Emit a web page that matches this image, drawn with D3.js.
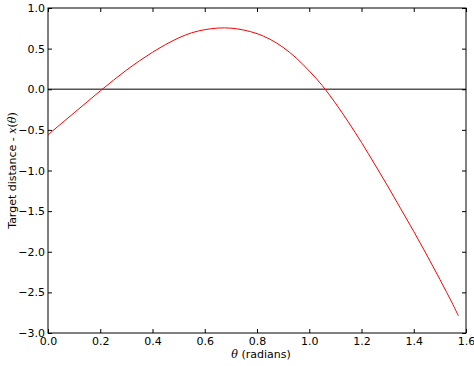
<!DOCTYPE html>
<html>
<head>
<meta charset="utf-8">
<script src="https://cdn.jsdelivr.net/npm/d3@7"></script>
<style>
  body { margin: 0; background: #fff; }
  svg { display: block; }
  .axis text { font-family: "DejaVu Sans", sans-serif; font-size: 11px; fill: #000; }
  .label { font-family: "DejaVu Sans", sans-serif; font-size: 11px; fill: #000; }
</style>
</head>
<body>
<div id="chart"></div>
<script>
// values
var theta = [0.0, 0.05, 0.1, 0.15, 0.2, 0.25, 0.3, 0.35, 0.4, 0.45, 0.5, 0.55, 0.6, 0.65, 0.7, 0.75, 0.8,
             0.85, 0.9, 0.95, 1.0, 1.05, 1.1, 1.15, 1.2, 1.25, 1.3, 1.35, 1.4, 1.45, 1.5, 1.55, 1.571];
var distance = [-0.56, -0.425, -0.29, -0.155, -0.02, 0.11, 0.235, 0.35, 0.455, 0.55, 0.632, 0.695, 0.733, 0.753, 0.752, 0.728, 0.685,
                0.615, 0.515, 0.385, 0.225, 0.045, -0.17, -0.405, -0.655, -0.92, -1.19, -1.47, -1.75, -2.04, -2.34, -2.65, -2.79];
var xTicks = [0.0, 0.2, 0.4, 0.6, 0.8, 1.0, 1.2, 1.4, 1.6];
var yTicks = [1.0, 0.5, 0.0, -0.5, -1.0, -1.5, -2.0, -2.5, -3.0];

var data = theta.map(function (t, i) { return {x: t, y: distance[i]}; });

var width = 474, height = 366,
    padLeft = 48, padRight = 466, padTop = 8, padBottom = 333,
    tickLen = 4;

var fmt = function (d) { return d3.format(".1f")(d).replace("-", "\u2212"); };

var xScale = d3.scaleLinear().domain([0, 1.6]).range([padLeft, padRight]);
var yScale = d3.scaleLinear().domain([-3, 1]).range([padBottom, padTop]);

var svg = d3.select("#chart").append("svg")
  .attr("width", width)
  .attr("height", height);

// zero line
svg.append("line")
  .attr("x1", xScale(0)).attr("x2", xScale(1.6))
  .attr("y1", yScale(0)).attr("y2", yScale(0))
  .attr("stroke", "#555")
  .attr("stroke-width", 1.5);

var line = d3.line()
  .x(function (d) { return xScale(d.x); })
  .y(function (d) { return yScale(d.y); })
  .curve(d3.curveCatmullRom);

svg.append("path")
  .attr("d", line(data))
  .attr("fill", "none")
  .attr("stroke", "#f00")
  .attr("stroke-width", 1);

// axes, ticks pointing inwards on all four sides
var xAxis = d3.axisBottom(xScale).tickValues(xTicks).tickFormat(fmt)
  .tickSizeInner(-tickLen).tickSizeOuter(0).tickPadding(4);
var yAxis = d3.axisLeft(yScale).tickValues(yTicks).tickFormat(fmt)
  .tickSizeInner(-tickLen).tickSizeOuter(0).tickPadding(3);
var xTop = d3.axisTop(xScale).tickValues(xTicks).tickFormat("")
  .tickSizeInner(-tickLen).tickSizeOuter(0);
var yRight = d3.axisRight(yScale).tickValues(yTicks).tickFormat("")
  .tickSizeInner(-tickLen).tickSizeOuter(0);

svg.append("g").attr("class", "axis").attr("transform", "translate(0," + padBottom + ")").call(xAxis);
svg.append("g").attr("class", "axis").attr("transform", "translate(" + padLeft + ",0)").call(yAxis);
svg.append("g").attr("class", "axis").attr("transform", "translate(0," + padTop + ")").call(xTop);
svg.append("g").attr("class", "axis").attr("transform", "translate(" + padRight + ",0)").call(yRight);

svg.selectAll(".axis .domain").remove();
svg.selectAll(".axis line").attr("stroke", "#000");

// frame
svg.append("rect")
  .attr("x", padLeft).attr("y", padTop)
  .attr("width", padRight - padLeft).attr("height", padBottom - padTop)
  .attr("fill", "none")
  .attr("stroke", "#000")
  .attr("stroke-width", 1);

// labels
var xl = svg.append("text")
  .attr("class", "label")
  .attr("x", (padLeft + padRight) / 2 + 4)
  .attr("y", 358)
  .attr("text-anchor", "middle");
xl.append("tspan").attr("font-family", "DejaVu Serif, serif").attr("font-style", "italic").text("\u03b8");
xl.append("tspan").text(" (radians)");

var yl = svg.append("text")
  .attr("class", "label")
  .attr("transform", "translate(16," + ((padTop + padBottom) / 2) + ") rotate(-90)")
  .attr("text-anchor", "middle");
yl.append("tspan").text("Target distance - ");
yl.append("tspan").attr("font-family", "DejaVu Serif, serif").attr("font-style", "italic").text("x");
yl.append("tspan").attr("font-family", "DejaVu Serif, serif").text("(");
yl.append("tspan").attr("font-family", "DejaVu Serif, serif").attr("font-style", "italic").text("\u03b8");
yl.append("tspan").attr("font-family", "DejaVu Serif, serif").text(")");
</script>
</body>
</html>
